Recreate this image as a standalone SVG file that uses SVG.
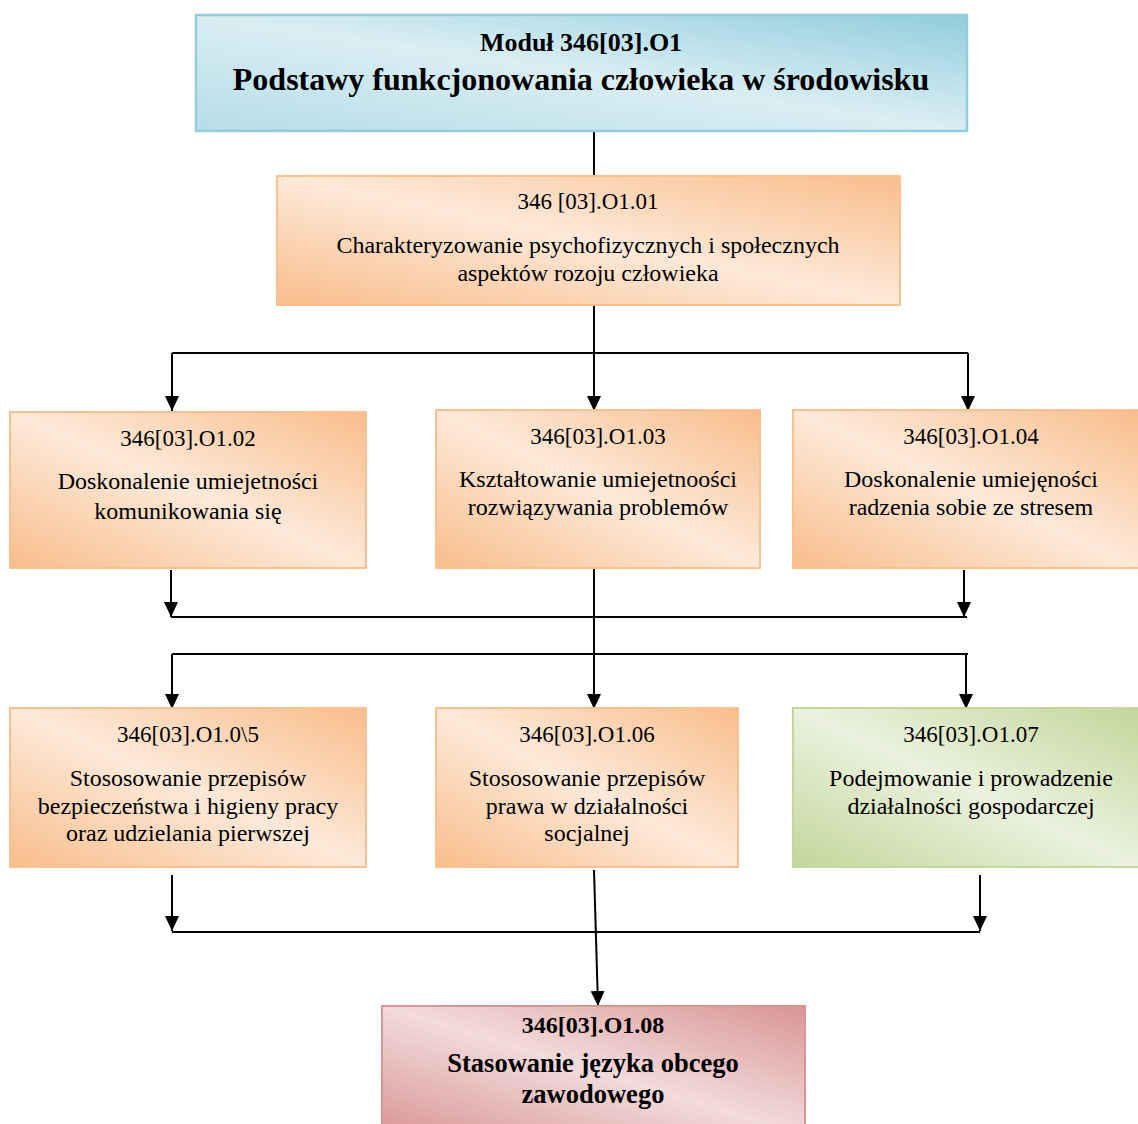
<svg xmlns="http://www.w3.org/2000/svg" width="1138" height="1124" viewBox="0 0 1138 1124">
<style>
text{font-family:"Liberation Serif","Times New Roman",serif;fill:#000;text-anchor:middle}
.i{font-size:23px}
.t{font-size:24px}
.b{font-weight:bold}
.ln{stroke:#000;stroke-width:2;fill:none}
.ar{stroke:#000;stroke-width:2;fill:none;marker-end:url(#ah)}
.o{fill:url(#go);stroke:#fac08f;stroke-width:2}
.bl{fill:url(#gb);stroke:#92cddc;stroke-width:2.5}
.g{fill:url(#gg);stroke:#c3d69b;stroke-width:2}
.r{fill:url(#gr);stroke:#d99594;stroke-width:2}
</style>
<defs>
<marker id="ah" viewBox="0 0 15 14" refX="15" refY="7" markerWidth="15" markerHeight="14" markerUnits="userSpaceOnUse" orient="auto">
<path d="M0,0L15,7L0,14Z" fill="#000"/>
</marker>
<linearGradient id="go" x1="0" y1="1" x2="1" y2="0">
<stop offset="0" stop-color="#f9bd8b"/><stop offset="0.5" stop-color="#fde9d9"/><stop offset="1" stop-color="#f9bd8b"/>
</linearGradient>
<linearGradient id="gb" x1="0" y1="1" x2="1" y2="0">
<stop offset="0" stop-color="#b6dde8"/><stop offset="0.5" stop-color="#daeef3"/><stop offset="1" stop-color="#92cddc"/>
</linearGradient>
<linearGradient id="gg" x1="0" y1="1" x2="1" y2="0">
<stop offset="0" stop-color="#c3d69b"/><stop offset="0.5" stop-color="#ebf1de"/><stop offset="1" stop-color="#c3d69b"/>
</linearGradient>
<linearGradient id="gr" x1="0" y1="1" x2="1" y2="0">
<stop offset="0" stop-color="#d99594"/><stop offset="0.5" stop-color="#f2dbdb"/><stop offset="1" stop-color="#d99594"/>
</linearGradient>
</defs>
<g id="connectors">
<path class="ln" d="M594,131V177"/>
<path class="ar" d="M594,306V411"/>
<path class="ln" d="M172,353H968"/>
<path class="ar" d="M172,353V411"/>
<path class="ar" d="M968,353V411"/>
<path class="ar" d="M171,570V617"/>
<path class="ar" d="M964,570V617"/>
<path class="ln" d="M171,617H967"/>
<path class="ar" d="M594,569V709"/>
<path class="ln" d="M172,654H968"/>
<path class="ar" d="M172,654V709"/>
<path class="ar" d="M966,654V709"/>
<path class="ar" d="M172,875V931"/>
<path class="ar" d="M980,875V931"/>
<path class="ln" d="M172,932H980"/>
<path class="ar" d="M594,870L598,1006"/>
</g>
<g id="n0">
<rect class="bl" x="196" y="15" width="771" height="116"/>
<text class="b" x="581" y="51" font-size="26">Moduł 346[03].O1</text>
<text class="b" x="581" y="90" font-size="32">Podstawy funkcjonowania człowieka w środowisku</text>
</g>
<g id="n1">
<rect class="o" x="277" y="176" width="623" height="129"/>
<text class="i" x="588" y="209">346 [03].O1.01</text>
<text class="t" x="588" y="253">Charakteryzowanie psychofizycznych i społecznych</text>
<text class="t" x="588" y="281">aspektów rozoju człowieka</text>
</g>
<g id="n2">
<rect class="o" x="10" y="412" width="356" height="156"/>
<text class="i" x="188" y="446">346[03].O1.02</text>
<text class="t" x="188" y="489">Doskonalenie umiejetności</text>
<text class="t" x="188" y="519">komunikowania się</text>
</g>
<g id="n3">
<rect class="o" x="436" y="410" width="324" height="158"/>
<text class="i" x="598" y="444">346[03].O1.03</text>
<text class="t" x="598" y="487">Kształtowanie umiejetnoości</text>
<text class="t" x="598" y="515">rozwiązywania problemów</text>
</g>
<g id="n4">
<rect class="o" x="793" y="410" width="346" height="158"/>
<text class="i" x="971" y="444">346[03].O1.04</text>
<text class="t" x="971" y="487">Doskonalenie umiejęności</text>
<text class="t" x="971" y="515">radzenia sobie ze stresem</text>
</g>
<g id="n5">
<rect class="o" x="10" y="708" width="356" height="159"/>
<text class="i" x="188" y="742">346[03].O1.0\5</text>
<text class="t" x="188" y="786">Stososowanie przepisów</text>
<text class="t" x="188" y="814">bezpieczeństwa i higieny pracy</text>
<text class="t" x="188" y="841">oraz udzielania pierwszej</text>
</g>
<g id="n6">
<rect class="o" x="436" y="708" width="302" height="159"/>
<text class="i" x="587" y="742">346[03].O1.06</text>
<text class="t" x="587" y="786">Stososowanie przepisów</text>
<text class="t" x="587" y="814">prawa w działalności</text>
<text class="t" x="587" y="841">socjalnej</text>
</g>
<g id="n7">
<rect class="g" x="793" y="708" width="346" height="159"/>
<text class="i" x="971" y="742">346[03].O1.07</text>
<text class="t" x="971" y="786">Podejmowanie i prowadzenie</text>
<text class="t" x="971" y="814">działalności gospodarczej</text>
</g>
<g id="n8">
<rect class="r" x="382" y="1006" width="423" height="130"/>
<text class="b" x="593" y="1033" font-size="24">346[03].O1.08</text>
<text class="b" x="593" y="1072" font-size="26.5">Stasowanie języka obcego</text>
<text class="b" x="593" y="1103" font-size="26.5">zawodowego</text>
</g>
</svg>
